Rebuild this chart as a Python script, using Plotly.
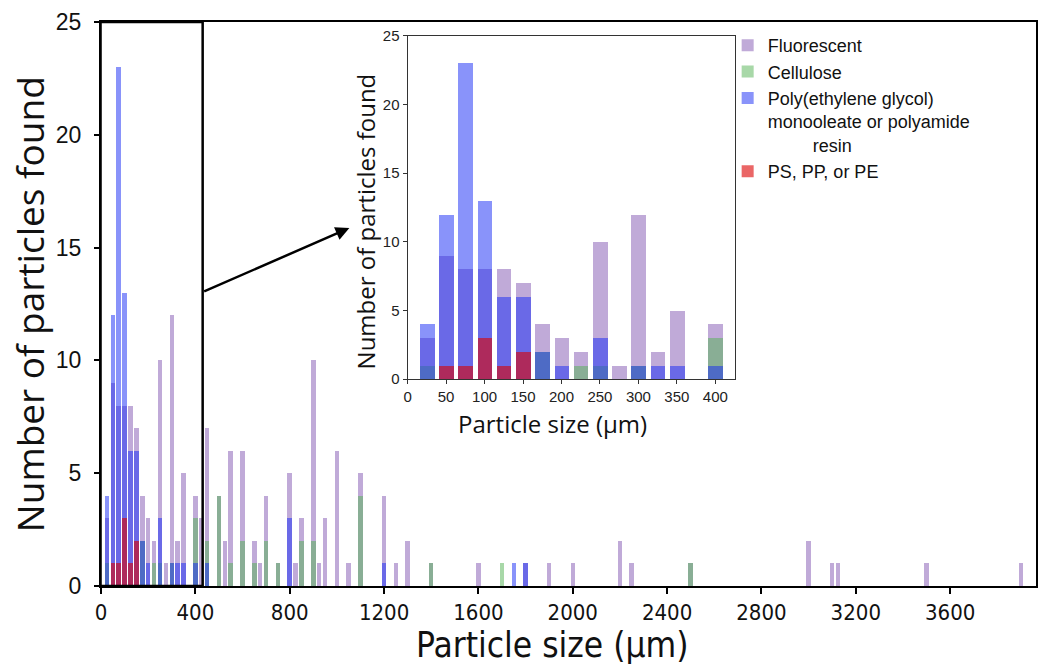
import plotly.graph_objects as go

# ---- data (bin centres in µm, counts per 25-µm bin) ----
fluor_x = [25, 50, 75, 100, 125, 150, 175, 200, 225, 250, 275, 300, 325, 350, 400,
           425, 450, 500, 525, 550, 600, 650, 675, 700, 750, 800, 825, 850, 900, 925,
           950, 1000, 1050, 1100, 1200, 1250, 1300, 1400, 1600, 1800, 1900, 2000,
           2200, 2250, 2500, 3000, 3100, 3125, 3500, 3900]
fluor_y = [3, 9, 8, 8, 8, 7, 4, 3, 2, 10, 1, 12, 2, 5, 4,
           3, 7, 4, 2, 6, 6, 2, 1, 4, 1, 5, 1, 3, 10, 1,
           3, 6, 1, 5, 4, 1, 2, 1, 1, 1, 1, 1,
           2, 1, 1, 2, 1, 1, 1, 1]

cell_x = [25, 175, 225, 250, 300, 400, 450, 500, 550, 600, 650, 700, 750, 850, 900,
          1100, 1400, 1700, 2500]
cell_y = [1, 2, 1, 1, 1, 3, 2, 4, 1, 2, 1, 2, 1, 2, 2,
          4, 1, 1, 1]

peg_x = [25, 50, 75, 100, 125, 150, 175, 200, 250, 300, 325, 350, 400, 450, 800,
         1200, 1750, 1800]
peg_y = [4, 12, 23, 13, 6, 6, 2, 1, 3, 1, 1, 1, 1, 1, 3,
         1, 1, 1]

ps_x = [50, 75, 100, 125, 150]
ps_y = [1, 1, 3, 1, 2]

names = ["Fluorescent", "Cellulose",
         "Poly(ethylene glycol)<br>monooleate or polyamide<br>"
         + "&nbsp;" * 9 + "resin",
         "PS, PP, or PE"]
colors = ["rgba(129,85,177,0.5)", "rgba(81,177,81,0.5)",
          "rgba(20,40,245,0.5)", "rgba(220,0,0,0.6)"]
series = [(fluor_x, fluor_y), (cell_x, cell_y), (peg_x, peg_y), (ps_x, ps_y)]

x_ticks = list(range(0, 4000, 400))
inset_ticks = list(range(0, 401, 50))
BAR_W = 19
INSET_MAX = 410

fig = go.Figure()
for (xs, ys), nm, col in zip(series, names, colors):
    fig.add_trace(go.Bar(x=xs, y=ys, width=[BAR_W] * len(xs), name=nm,
                         marker=dict(color=col, line=dict(width=0)),
                         legendgroup=nm, xaxis="x", yaxis="y"))
for (xs, ys), nm, col in zip(series, names, colors):
    xi = [a for a in xs if a <= INSET_MAX]
    yi = [b for a, b in zip(xs, ys) if a <= INSET_MAX]
    fig.add_trace(go.Bar(x=xi, y=yi, width=[BAR_W] * len(xi), name=nm,
                         marker=dict(color=col, line=dict(width=0)),
                         legendgroup=nm, showlegend=False,
                         xaxis="x2", yaxis="y2"))

ML, MR, MT, MB = 101, 3, 22, 79
W, H = 1041, 665
PW = W - ML - MR
PH = H - MT - MB


def px(xp):
    return (xp - ML) / PW


def py(yp):
    return (H - MB - yp) / PH


narrow = "Liberation Sans Narrow, DejaVu Sans Condensed, Arial Narrow, sans-serif"
helv = "Liberation Sans, Arial, sans-serif"
avenir = "Open Sans, Lato, sans-serif"

fig.update_layout(
    width=W, height=H,
    margin=dict(l=ML, r=MR, t=MT, b=MB),
    barmode="overlay",
    bargap=0,
    plot_bgcolor="white", paper_bgcolor="white",
    showlegend=True,
    legend=dict(x=px(729), y=py(27), xanchor="left", yanchor="top",
                font=dict(family=helv, size=18, color="#111"),
                bgcolor="rgba(0,0,0,0)", borderwidth=0,
                tracegroupgap=0, itemwidth=30, valign="top",
                itemclick=False, itemdoubleclick=False),
    xaxis=dict(range=[0, 3964], tickvals=x_ticks, ticktext=[str(v) for v in x_ticks],
               ticks="outside", ticklen=6, tickwidth=1.5, tickcolor="black",
               showline=True, linewidth=2, linecolor="black", mirror=True,
               showgrid=False, zeroline=False,
               tickfont=dict(family=narrow, size=22, color="#111")),
    yaxis=dict(range=[0, 25], tickvals=[0, 5, 10, 15, 20, 25],
               ticks="outside", ticklen=5, tickwidth=1.5, tickcolor="black",
               showline=True, linewidth=2, linecolor="black", mirror=True,
               showgrid=False, zeroline=False, ticklabelstandoff=8,
               tickfont=dict(family=helv, size=23, color="#111")),
    xaxis2=dict(domain=[px(408.3), px(736.7)], anchor="y2",
                range=[0, 426], tickvals=inset_ticks,
                ticks="outside", ticklen=4, tickwidth=1, tickcolor="#333",
                showline=True, linewidth=1.2, linecolor="#333", mirror=True,
                showgrid=False, zeroline=False,
                tickfont=dict(family=helv, size=15, color="#222")),
    yaxis2=dict(domain=[py(379), py(35.7)], anchor="x2",
                range=[0, 25], tickvals=[0, 5, 10, 15, 20, 25],
                ticks="outside", ticklen=4, tickwidth=1, tickcolor="#333",
                showline=True, linewidth=1.2, linecolor="#333", mirror=True,
                showgrid=False, zeroline=False,
                tickfont=dict(family=helv, size=15, color="#222")),
)

# highlight rectangle on the main plot
fig.add_shape(type="rect", xref="x", yref="paper", x0=-2, x1=431, y0=0, y1=1,
              line=dict(color="black", width=2.5), fillcolor="rgba(0,0,0,0)",
              layer="above")

annotations = [
    # arrow from rectangle to inset
    dict(x=1053, y=15.87, xref="x", yref="y", ax=431, ay=13.03, axref="x", ayref="y",
         showarrow=True, arrowhead=2, arrowsize=1.1, arrowwidth=2.5, arrowcolor="black",
         text=""),
    # main axis titles
    dict(text="Particle size (µm)", xref="paper", yref="paper",
         x=px(553), y=py(645), xanchor="center", yanchor="middle", showarrow=False,
         font=dict(family=narrow, size=35, color="#111")),
    dict(text="Number of particles found", xref="paper", yref="paper",
         x=px(29), y=py(304), xanchor="center", yanchor="middle", showarrow=False,
         textangle=-90, font=dict(family=avenir, size=37, color="#111")),
    # inset titles
    dict(text="Particle size (µm)", xref="paper", yref="paper",
         x=px(553), y=py(423), xanchor="center", yanchor="middle", showarrow=False,
         font=dict(family=avenir, size=24, color="#111")),
    dict(text="Number of particles found", xref="paper", yref="paper",
         x=px(366), y=py(221), xanchor="center", yanchor="middle", showarrow=False,
         textangle=-90, font=dict(family=avenir, size=24, color="#111")),
]
fig.update_layout(annotations=annotations)

fig.write_html("out.html")
